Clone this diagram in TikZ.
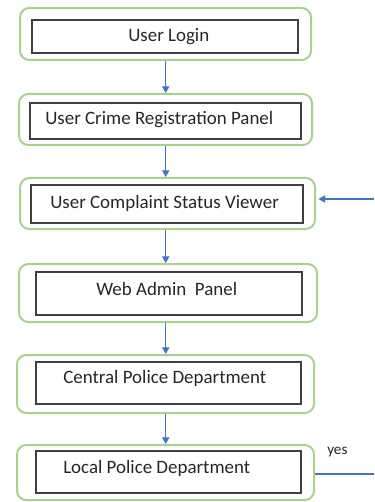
\documentclass[tikz,border=0pt]{standalone}
\usepackage{fontspec}
\setmainfont{Carlito}
\usetikzlibrary{arrows.meta}
\definecolor{boxgreen}{HTML}{A9D18E}
\definecolor{arrblue}{HTML}{4472C4}
\definecolor{innergray}{HTML}{3F3F3F}
\begin{document}
\begin{tikzpicture}[x=0.75pt,y=-0.75pt,
  outerbox/.style={draw=boxgreen,line width=1.5pt,rounded corners=7pt,inner sep=0pt},
  innerbox/.style={draw=innergray,line width=1.4pt,inner sep=0pt},
  label/.style={font=\fontsize{14.2pt}{16pt}\selectfont,text=black!85,inner sep=0pt,anchor=west},
  flow/.style={draw=arrblue,line width=0.8pt,-{Triangle[width=5.5pt,length=5pt]}}]
\useasboundingbox (0,0) rectangle (374,502);
% outer boxes
\node[outerbox,minimum width=291*0.75pt,minimum height=52*0.75pt] (o1) at (165.5,34) {};
\node[outerbox,minimum width=293*0.75pt,minimum height=51*0.75pt] (o2) at (165.5,119.5) {};
\node[outerbox,minimum width=295*0.75pt,minimum height=51*0.75pt] (o3) at (167.5,203.5) {};
\node[outerbox,minimum width=298*0.75pt,minimum height=58*0.75pt] (o4) at (168,293) {};
\node[outerbox,minimum width=297*0.75pt,minimum height=58*0.75pt] (o5) at (165.5,384) {};
\node[outerbox,minimum width=297*0.75pt,minimum height=55*0.75pt] (o6) at (165.5,472.5) {};
% inner boxes
\node[innerbox,minimum width=266*0.75pt,minimum height=33*0.75pt] (i1) at (165,36.5) {};
\node[innerbox,minimum width=271*0.75pt,minimum height=36*0.75pt] (i2) at (165.5,121) {};
\node[innerbox,minimum width=272*0.75pt,minimum height=38*0.75pt] (i3) at (167,204) {};
\node[innerbox,minimum width=266*0.75pt,minimum height=43*0.75pt] (i4) at (169,293.5) {};
\node[innerbox,minimum width=265*0.75pt,minimum height=42*0.75pt] (i5) at (168.5,383) {};
\node[innerbox,minimum width=265*0.75pt,minimum height=42*0.75pt] (i6) at (168.5,472) {};
% texts
\node[label] (t1) at (128,36.5) {User Login};
\node[label] (t2) at (45,119.5) {User Crime Registration Panel};
\node[label] (t3) at (50,203.5) {User Complaint Status Viewer};
\node[label] (t4) at (96,288.5) {Web Admin\ \ Panel};
\node[label] (t5) at (63,378.5) {Central Police Department};
\node[label] (t6) at (63,468.5) {Local Police Department};
\node[font=\fontsize{11.4pt}{13pt}\selectfont,text=black!85,inner sep=0pt,anchor=west] (yes) at (327,452) {yes};
% connectors
\coordinate (a1) at (165.7,60);
\draw[flow] (o1.south -| a1) -- (o2.north -| a1);
\draw[flow] (o2.south -| a1) -- (o3.north -| a1);
\draw[flow] (o3.south -| a1) -- (o4.north -| a1);
\draw[flow] (o4.south -| a1) -- (o5.north -| a1);
\draw[flow] (o5.south -| a1) -- (o6.north -| a1);
\coordinate (inR) at (374,199);
\coordinate (inTip) at (318.5,199);
\draw[flow] (inR) -- (inTip);
\coordinate (outR) at (374,474);
\draw[draw=arrblue,line width=0.8pt] (o6.east |- outR) -- (outR);
\end{tikzpicture}
\end{document}
